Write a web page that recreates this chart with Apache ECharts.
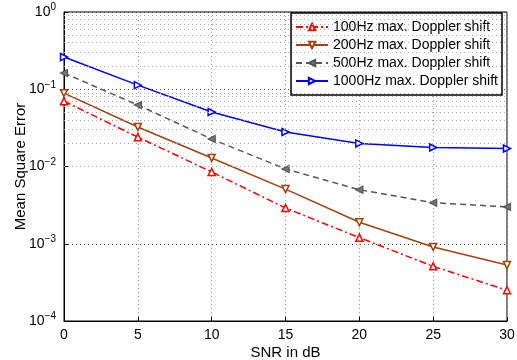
<!DOCTYPE html>
<html>
<head>
<meta charset="utf-8">
<script src="https://cdn.jsdelivr.net/npm/echarts@6/dist/echarts.min.js"></script>
<style>
  html, body { margin: 0; padding: 0; background: #fff; }
  #chart { width: 517px; height: 360px; }
</style>
</head>
<body>
<div id="chart"></div>
<script>
// SNR values (dB)
const snr = [0, 5, 10, 15, 20, 25, 30];

// MSE per max. Doppler shift
const mse100 = [0.070, 0.024, 0.0085, 0.0029, 0.0012, 0.00051, 0.00025];
const mse200 = [0.089, 0.0325, 0.0129, 0.0051, 0.0019, 0.00091, 0.00053];
const mse500 = [0.162, 0.0625, 0.0227, 0.0093, 0.0050, 0.0034, 0.0030];
const mse1000 = [0.261, 0.113, 0.0508, 0.028, 0.0199, 0.0176, 0.0171];

const seriesNames = [
  "100Hz max. Doppler shift",
  "200Hz max. Doppler shift",
  "500Hz max. Doppler shift",
  "1000Hz max. Doppler shift"
];

// minor grid values on the log axis (2..9 per decade)
const minorValues = [];
for (let e = -4; e < 0; e++) {
  for (let m = 2; m <= 9; m++) minorValues.push(m * Math.pow(10, e));
}

const chart = echarts.init(document.getElementById("chart"));

const font = "Liberation Sans, Arial, sans-serif";

function pairs(ys) {
  return snr.map((x, i) => [x, ys[i]]);
}

const supFormatter = (v) => {
  const e = Math.round(Math.log10(v));
  return "{b|10}{s|" + (e < 0 ? "\u2212" + (-e) : e) + "}";
};

const option = {
  animation: false,
  backgroundColor: "#fff",
  textStyle: { fontFamily: font },
  grid: {
    left: 64, right: 10, top: 12, bottom: 39,
    containLabel: false,
    outerBoundsMode: "none",
    show: true, borderColor: "#000", borderWidth: 1
  },
  legend: {
    right: 15, top: 13,
    orient: "vertical",
    backgroundColor: "#fff",
    borderColor: "#000",
    borderWidth: 1.5,
    borderRadius: 0,
    padding: [7, 4, 7, 4],
    itemGap: 4,
    itemWidth: 32,
    itemHeight: 8,
    textStyle: { fontSize: 14, color: "#000", fontFamily: font },
    data: seriesNames
  },
  xAxis: {
    type: "value",
    min: 0, max: 30, interval: 5,
    name: "SNR in dB",
    nameLocation: "middle",
    nameGap: 24,
    nameMoveOverlap: false,
    nameTextStyle: { fontSize: 15, color: "#000" },
    axisLine: { lineStyle: { color: "#000", width: 1 } },
    axisTick: { inside: true, length: 4, lineStyle: { color: "#000" } },
    axisLabel: { fontSize: 14, color: "#000", margin: 7 },
    splitLine: { show: true, lineStyle: { color: "#999", type: [1, 3], width: 1 } }
  },
  yAxis: {
    type: "log",
    logBase: 10,
    min: 1e-4, max: 1,
    name: "Mean Square Error",
    nameLocation: "middle",
    nameGap: 36,
    nameMoveOverlap: false,
    nameTextStyle: { fontSize: 15, color: "#000" },
    axisLine: { lineStyle: { color: "#000", width: 1 } },
    axisTick: { inside: true, length: 4, lineStyle: { color: "#000" } },
    axisLabel: {
      color: "#000",
      margin: 8,
      formatter: supFormatter,
      rich: {
        b: { fontSize: 14, color: "#000", fontFamily: font },
        s: { fontSize: 10, color: "#000", fontFamily: font, padding: [0, 0, 9, 0] }
      }
    },
    splitLine: { show: true, lineStyle: { color: "#444", type: [1, 3], width: 1 } }
  },
  series: [
    {
      name: seriesNames[0],
      type: "line",
      data: pairs(mse100),
      symbol: "triangle",
      symbolSize: 7,
      lineStyle: { color: "#ff0000", width: 1.5, type: [7, 3, 2, 3] },
      itemStyle: { color: "#fff", borderColor: "#ff0000", borderWidth: 1.5 },
      z: 5,
      markLine: {
        silent: true,
        symbol: "none",
        label: { show: false },
        lineStyle: { color: "#aaa", type: [1, 3], width: 1 },
        data: minorValues.map((v) => ({ yAxis: v }))
      }
    },
    {
      name: seriesNames[1],
      type: "line",
      data: pairs(mse200),
      symbol: "triangle",
      symbolRotate: 180,
      symbolSize: 7,
      lineStyle: { color: "#a0420f", width: 1.5 },
      itemStyle: { color: "#fff", borderColor: "#a0420f", borderWidth: 1.5 },
      z: 4
    },
    {
      name: seriesNames[2],
      type: "line",
      data: pairs(mse500),
      symbol: "triangle",
      symbolRotate: 90,
      symbolSize: 7,
      lineStyle: { color: "#555", width: 1.5, type: [6, 4] },
      itemStyle: { color: "#777", borderColor: "#555", borderWidth: 1.2 },
      z: 3
    },
    {
      name: seriesNames[3],
      type: "line",
      data: pairs(mse1000),
      symbol: "triangle",
      symbolRotate: -90,
      symbolSize: 7,
      lineStyle: { color: "#0000ff", width: 1.5 },
      itemStyle: { color: "#fff", borderColor: "#0000ff", borderWidth: 1.5 },
      z: 2
    }
  ]
};

chart.setOption(option);
</script>
</body>
</html>
